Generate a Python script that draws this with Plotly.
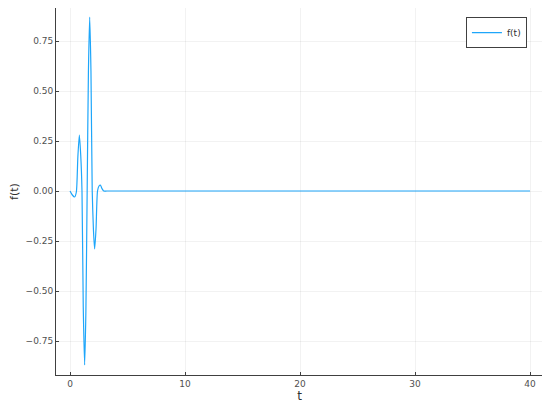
import plotly.graph_objects as go

# valores
t = [0, 0.2, 0.4, 0.55, 0.68, 0.81, 0.93, 1.04, 1.15, 1.27, 1.38, 1.49, 1.6, 1.71,
     1.82, 1.93, 2.04, 2.14, 2.26, 2.39, 2.52, 2.64, 2.78, 2.93, 3.2, 4, 40]
f = [0, -0.02, -0.03, -0.005, 0.17, 0.28, 0.18, 0.0, -0.58, -0.87, -0.6, 0.0, 0.6, 0.87,
     0.6, 0.0, -0.2, -0.29, -0.19, 0.0, 0.025, 0.03, 0.012, 0.0, 0.0, 0.0, 0.0]

x_ticks = [0, 10, 20, 30, 40]
y_ticks = [-0.75, -0.5, -0.25, 0.0, 0.25, 0.5, 0.75]
y_labels = ["\u22120.75", "\u22120.50", "\u22120.25", "0.00", "0.25", "0.50", "0.75"]

fig = go.Figure()
fig.add_trace(go.Scatter(x=t, y=f, mode="lines", name="f(t)",
                         line=dict(color="#1EA6FA", width=1.2, shape="spline", smoothing=0.6)))

eixo = dict(showline=True, linecolor="#404040", linewidth=1, mirror=False,
            ticks="inside", ticklen=3, tickcolor="#404040", automargin=False,
            showgrid=True, gridcolor="rgba(0,0,0,0.05)", gridwidth=0.5,
            zeroline=False, tickfont=dict(size=9, color="#505050"))

# a página tem 8px de margem no body, por isso as margens estão deslocadas
fig.update_layout(
    width=550, height=411,
    margin=dict(l=48, r=15, t=0, b=44),
    plot_bgcolor="white", paper_bgcolor="white",
    font=dict(family="DejaVu Sans", color="#303030"),
    xaxis=dict(range=[-1.22, 41.13], tickvals=x_ticks,
               title=dict(text="t", font=dict(size=12), standoff=3), **eixo),
    yaxis=dict(range=[-0.92, 0.915], tickvals=y_ticks, ticktext=y_labels,
               title=dict(text="f(t)", font=dict(size=11), standoff=8), **eixo),
    legend=dict(x=0.967, y=0.975, xanchor="right", yanchor="top",
                bordercolor="#404040", borderwidth=1, bgcolor="white",
                font=dict(size=9)),
    showlegend=True,
)

fig.write_html("out.html")
